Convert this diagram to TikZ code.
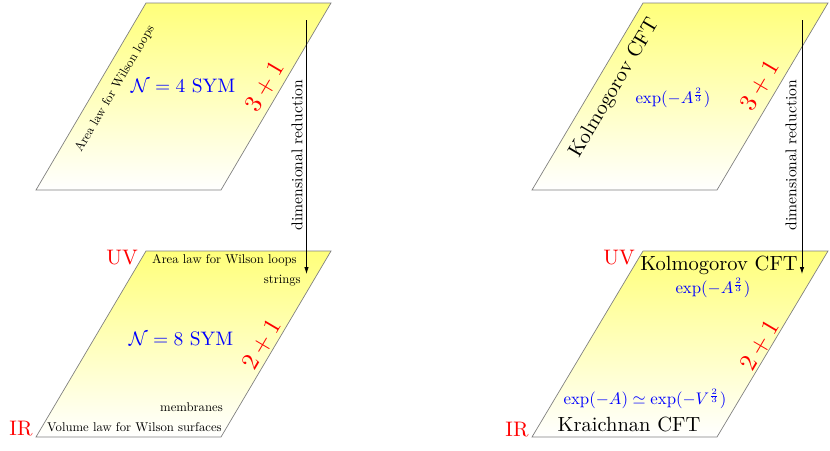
\documentclass[tikz,border=0pt]{standalone}
\usetikzlibrary{arrows.meta}
\tikzset{
  plane/.style={draw=gray, line width=0.7pt, top color=yellow!52, bottom color=white},
  basefont/.style={font=\fontsize{10}{12}\selectfont, inner sep=0pt},
  smalltxt/.style={basefont, scale=1.27},
  redtxt/.style={basefont, text=red, scale=2.1},
  dimtxt/.style={basefont, text=red, scale=2.45, rotate=59.5},
  symtxt/.style={basefont, text=blue, scale=1.95},
  cfttxt/.style={basefont, scale=2.05},
  exptxt/.style={basefont, text=blue, scale=1.68},
  redtxtlbl/.style={basefont, scale=1.56, rotate=90},
  redarrow/.style={line width=0.8pt, -{Latex[length=7pt,width=4.5pt]}}
}
\begin{document}
\begin{tikzpicture}[x=1pt,y=-1pt]
\useasboundingbox (0,0) rectangle (830,450);
% planes
\path[plane] (146,3) -- (331,3) -- (221,190) -- (36,190) -- cycle;
\path[plane] (146,251) -- (331,251) -- (221,437) -- (36,437) -- cycle;
\path[plane] (643,3) -- (828,3) -- (717,190) -- (532,190) -- cycle;
\path[plane] (643,251) -- (828,251) -- (717,437) -- (532,437) -- cycle;

% left top
\node[smalltxt, rotate=59.5] (arealaw1) at (115,89) {Area law for Wilson loops};
\node[symtxt] (sym4) at (183,86) {$\mathcal{N}=4$ SYM};
\node[dimtxt] (d31l) at (265,87) {$3+1$};

% left bottom
\node[redtxt] (uvl) at (122,258) {UV};
\node[redtxt] (irl) at (21,429) {IR};
\node[smalltxt, anchor=east] (arealaw2) at (297,260) {Area law for Wilson loops};
\node[smalltxt, anchor=east] (strings) at (301,281) {strings};
\node[symtxt] (sym8) at (181,339) {$\mathcal{N}=8$ SYM};
\node[dimtxt] (d21l) at (262,345) {$2+1$};
\node[smalltxt, anchor=east] (membr) at (223,407) {membranes};
\node[smalltxt, anchor=east] (vollaw) at (222,427) {Volume law for Wilson surfaces};

% right top
\node[cfttxt, rotate=59.5] (kolm1) at (614.5,88) {Kolmogorov CFT};
\node[exptxt] (exp1) at (673,98) {$\exp(-A^{\frac{2}{3}})$};
\node[dimtxt] (d31r) at (760,86) {$3+1$};

% right bottom
\node[redtxt] (uvr) at (619,258) {UV};
\node[redtxt] (irr) at (517,430) {IR};
\node[cfttxt] (kolm2) at (719,265) {Kolmogorov CFT};
\node[exptxt] (exp2) at (713,288) {$\exp(-A^{\frac{2}{3}})$};
\node[dimtxt] (d21r) at (760,346) {$2+1$};
\node[exptxt] (exp3) at (645,399) {$\exp(-A)\simeq\exp(-V^{\frac{2}{3}})$};
\node[cfttxt] (kraich) at (629,424) {Kraichnan CFT};

% arrows
\coordinate (al1) at (306.5,20);
\coordinate (al2) at (306.5,274);
\coordinate (ar1) at (802,20);
\coordinate (ar2) at (802,274);
\draw[redarrow] (al1) -- (al2);
\draw[redarrow] (ar1) -- (ar2);
\node[redtxtlbl] (dimredl) at (297,155) {dimensional reduction};
\node[redtxtlbl] (dimredr) at (791,155) {dimensional reduction};
\end{tikzpicture}
\end{document}
